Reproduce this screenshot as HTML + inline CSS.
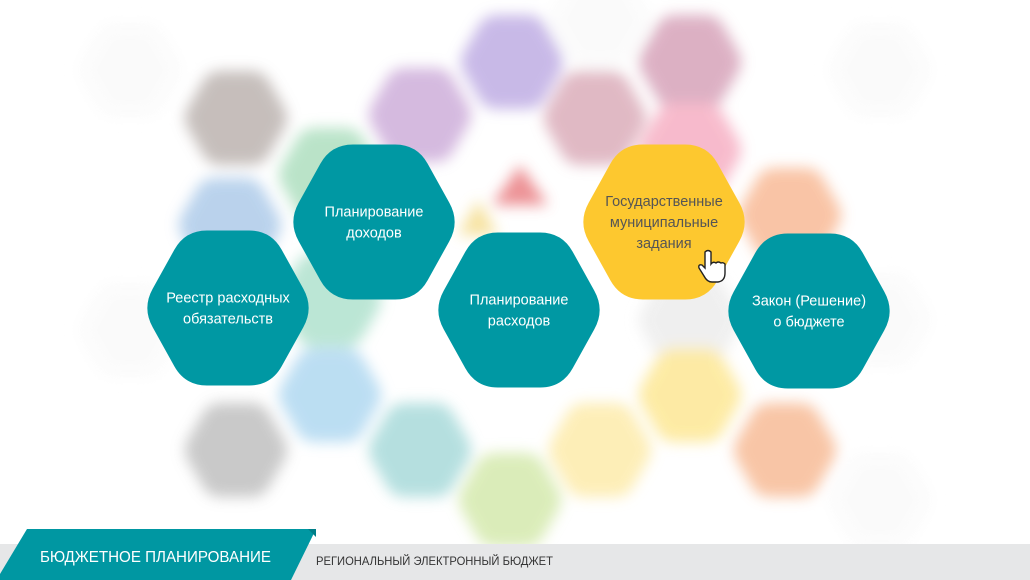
<!DOCTYPE html>
<html><head><meta charset="utf-8"><style>
html,body{margin:0;padding:0;background:#fff}
body{width:1030px;height:580px;overflow:hidden;position:relative;font-family:"Liberation Sans",sans-serif}
svg{position:absolute;left:0;top:0}
</style></head><body>
<svg width="1030" height="580" viewBox="0 0 1030 580">
<defs>
<filter id="blur" x="-20%" y="-20%" width="140%" height="140%"><feGaussianBlur stdDeviation="7"/></filter>
</defs>
<g id="bg" filter="url(#blur)" opacity="0.8"></g>
<g id="main"></g>
<g>
<rect x="0" y="544" width="1030" height="36" fill="#e6e7e8"/>
<polygon points="27,529 316,529 291,580 0,580 0,574" fill="#0097a2"/>
<polygon points="308,529 316,529 316,537" fill="#007e88"/>
<text x="40" y="562" fill="#fff" font-size="16" textLength="231" lengthAdjust="spacingAndGlyphs">БЮДЖЕТНОЕ ПЛАНИРОВАНИЕ</text>
<text x="316" y="565" fill="#333" font-size="12" textLength="237" lengthAdjust="spacingAndGlyphs">РЕГИОНАЛЬНЫЙ ЭЛЕКТРОННЫЙ БЮДЖЕТ</text>
</g>
<g transform="translate(699,250)">
<path d="M6 2 q3 -3 6 0 v12 q2 -3 5 -1 q2 -2 5 0 q2 -1 4 1 v9 q0 8 -7 9 h-6 q-5 0 -8 -6 l-5 -8 q-1 -4 3 -3 l3 3 z" fill="#fff" stroke="#222" stroke-width="1.4"/>
</g>
</svg>
<script>
const ns="http://www.w3.org/2000/svg";
function hexPts(cx,cy,w,h){const a=w/2,b=h/2,q=w/4;return [[cx-a,cy],[cx-q,cy-b],[cx+q,cy-b],[cx+a,cy],[cx+q,cy+b],[cx-q,cy+b]];}
function hexPath(cx,cy,w,h,r){const p=hexPts(cx,cy,w,h);let d="";for(let i=0;i<6;i++){const P=p[i],A=p[(i+5)%6],B=p[(i+1)%6];
 const l1=Math.hypot(A[0]-P[0],A[1]-P[1]),l2=Math.hypot(B[0]-P[0],B[1]-P[1]);
 const s=[P[0]+(A[0]-P[0])*r/l1,P[1]+(A[1]-P[1])*r/l1],e=[P[0]+(B[0]-P[0])*r/l2,P[1]+(B[1]-P[1])*r/l2];
 d+=(i?"L":"M")+s[0]+","+s[1]+"Q"+P[0]+","+P[1]+" "+e[0]+","+e[1];}return d+"Z";}
const bgX=[236,420,512,595,690,690,330,230,790,330,690,330,690,236,420,600,785,510,130,880,880,130,600,880];
const bgY=[118,115,62,118,62,150,175,225,215,300,320,395,395,450,450,450,450,500,70,70,320,330,20,500];
const bgC=["#b8afab","#cba9d8","#bba8e2","#d9a8b6","#d49db5","#f6aac0","#a9ddbb","#a9c8e8","#f8b690","#abe0cb","#ececec","#abd6f0","#fde68e","#bcbcbc","#a3d8d8","#fdeaa6","#f7b790","#d2e8a8","#fafafa","#fafafa","#fafafa","#fafafa","#fafafa","#fafafa"];
const bg=document.getElementById("bg");
for(let i=0;i<bgX.length;i++){const p=document.createElementNS(ns,"path");
p.setAttribute("d",hexPath(bgX[i],bgY[i],108,94,12));p.setAttribute("fill",bgC[i]);


bg.appendChild(p);}
const tri=document.createElementNS(ns,"polygon");tri.setAttribute("points","520,165 548,205 492,205");tri.setAttribute("fill","#e8777c");


bg.appendChild(tri);
const t2=document.createElementNS(ns,"polygon");t2.setAttribute("points","478,200 498,235 458,235");t2.setAttribute("fill","#f4dc8a");


bg.appendChild(t2);
const labels=[["Реестр расходных","обязательств"],["Планирование","доходов"],["Планирование","расходов"],["Государственные","муниципальные","задания"],["Закон (Решение)","о бюджете"]];
const names=["registry-hex","revenue-planning-hex","expense-planning-hex","state-tasks-hex","budget-law-hex"];
const cx=[228,374,519,664,809],cy=[308,222,310,222,311];
const fills=["#0098a3","#0098a3","#0098a3","#fdc82f","#0098a3"];
const main=document.getElementById("main");
for(let i=0;i<5;i++){const g=document.createElementNS(ns,"g");


const p=document.createElementNS(ns,"path");p.setAttribute("d",hexPath(cx[i],cy[i],172,155,22));p.setAttribute("fill",fills[i]);g.appendChild(p);
const L=labels[i],lh=21,y0=cy[i]-(L.length-1)*lh/2+5;
L.forEach((s,k)=>{const t=document.createElementNS(ns,"text");t.setAttribute("x",cx[i]);t.setAttribute("y",y0+k*lh);
t.setAttribute("text-anchor","middle");t.setAttribute("font-size","14.5");t.setAttribute("fill",i==3?"#555":"#fff");t.textContent=s;


g.appendChild(t);});
main.appendChild(g);}
</script>
</body></html>
